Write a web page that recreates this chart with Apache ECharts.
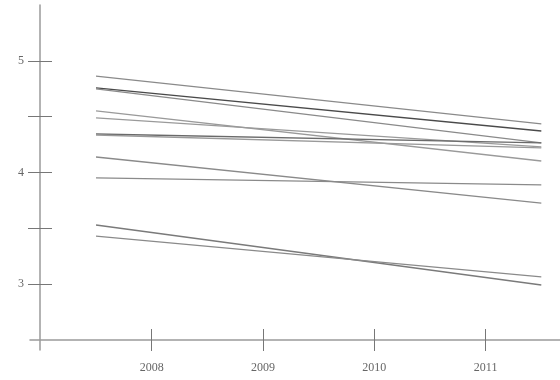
<!DOCTYPE html>
<html>
<head>
<meta charset="utf-8">
<script src="https://cdn.jsdelivr.net/npm/echarts@6/dist/echarts.min.js"></script>
<style>
  html, body { margin: 0; padding: 0; background: #fff; }
  #chart { width: 560px; height: 380px; }
</style>
</head>
<body>
<div id="chart"></div>
<script>
// years at the two ends of every line
var years = [2007.5, 2011.5];
// value of each line at the first and at the last year
var startValues = [4.865, 4.758, 4.749, 4.552, 4.489, 4.345, 4.336, 4.139, 3.951, 3.529, 3.430];
var endValues   = [4.435, 4.372, 4.265, 4.103, 4.229, 4.265, 4.220, 3.726, 3.888, 2.991, 3.063];
var lineColors  = ['#8a8a8a', '#4a4a4a', '#8a8a8a', '#9a9a9a', '#9a9a9a', '#6a6a6a',
                   '#9a9a9a', '#8a8a8a', '#8a8a8a', '#7a7a7a', '#8a8a8a'];
var xTicks = [2008, 2009, 2010, 2011];
var yTicks = [3, 3.5, 4, 4.5, 5];
var yLabels = [3, 4, 5];

var chart = echarts.init(document.getElementById('chart'));

var axisGrey = '#9a9a9a';
var labelFont = { color: '#666', fontFamily: 'Liberation Serif', fontSize: 12 };

var series = startValues.map(function (v, i) {
    return {
        type: 'line',
        xAxisIndex: 0,
        yAxisIndex: 0,
        symbol: 'none',
        silent: true,
        lineStyle: { color: lineColors[i], width: 1.3 },
        data: [[years[0], v], [years[1], endValues[i]]]
    };
});

var xBase = {
    type: 'value',
    position: 'bottom',
    min: 2006.907,
    max: 2011.668,
    offset: -10,
    splitLine: { show: false }
};
var yBase = {
    type: 'value',
    position: 'left',
    min: 2.408,
    max: 5.502,
    offset: -10,
    splitLine: { show: false }
};

chart.setOption({
    animation: false,
    backgroundColor: '#fff',
    grid: { left: 30, right: 0, top: 5, bottom: 30 },
    xAxis: [
        Object.assign({}, xBase, {
            axisLine: { lineStyle: { color: axisGrey, width: 1.5 } },
            axisTick: { customValues: xTicks, length: 11, lineStyle: { color: '#777', width: 1 } },
            axisLabel: Object.assign({
                customValues: xTicks,
                margin: 22,
                formatter: function (v) { return String(v); }
            }, labelFont)
        }),
        Object.assign({}, xBase, {
            axisLine: { show: false },
            axisTick: { customValues: xTicks, inside: true, length: 11, lineStyle: { color: '#777', width: 1 } },
            axisLabel: { show: false }
        })
    ],
    yAxis: [
        Object.assign({}, yBase, {
            axisLine: { lineStyle: { color: axisGrey, width: 1.5 } },
            axisTick: { customValues: yTicks, length: 12, lineStyle: { color: '#777', width: 1 } },
            axisLabel: Object.assign({ customValues: yLabels, margin: 16 }, labelFont)
        }),
        Object.assign({}, yBase, {
            axisLine: { show: false },
            axisTick: { customValues: yTicks, inside: true, length: 12, lineStyle: { color: '#777', width: 1 } },
            axisLabel: { show: false }
        })
    ],
    series: series
});
</script>
</body>
</html>
